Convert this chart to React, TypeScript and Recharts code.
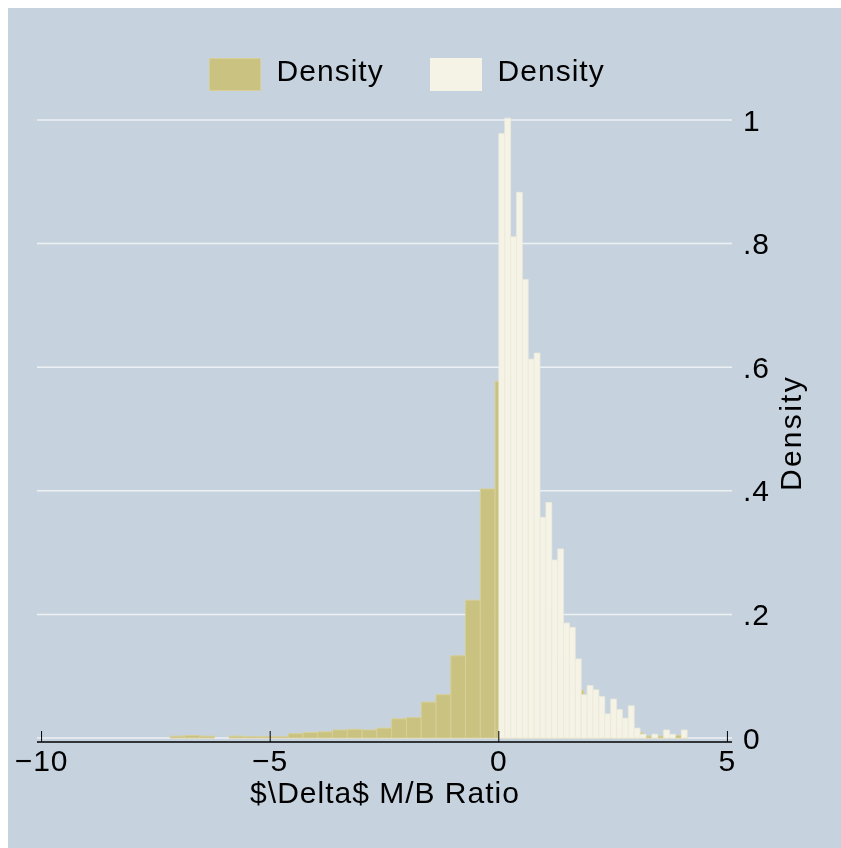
import React from 'react';
import {
  ComposedChart,
  XAxis,
  YAxis,
  CartesianGrid,
  ReferenceArea,
  Legend,
  Label,
} from 'recharts';

// ---------- data ----------
// full sample histogram (olive): 35 bins
const oliveStart = -7.19;
const oliveWidth = 0.32314;
const oliveDensity = [
  0.003, 0.004, 0.003, 0, 0.003, 0.002, 0.002, 0.002, 0.007, 0.009,
  0.01, 0.013, 0.014, 0.013, 0.016, 0.031, 0.033, 0.058, 0.07, 0.133,
  0.223, 0.403, 0.577, 0.5, 0.35, 0.22, 0.13, 0.077, 0.045, 0.03,
  0.015, 0.009, 0.003, 0.003, 0.004,
];
// positive-change histogram (cream): 32 bins
const creamStart = 0;
const creamWidth = 0.12875;
const creamDensity = [
  0.978, 1.003, 0.811, 0.883, 0.742, 0.613, 0.623, 0.357, 0.381, 0.288,
  0.306, 0.186, 0.179, 0.128, 0.07, 0.085, 0.078, 0.067, 0.039, 0.063,
  0.046, 0.032, 0.052, 0.016, 0.006, 0, 0.006, 0, 0.013, 0.006,
  0, 0.013,
];
const xTicks = [-10, -5, 0, 5];
const yTicks = [0, 0.2, 0.4, 0.6, 0.8, 1];
const legendLabels = ['Density', 'Density'];
const xTitle = '$\\Delta$ M/B Ratio';
const yTitle = 'Density';

// ---------- style ----------
const BG = '#c6d3df';
const OLIVE = '#cac281';
const OLIVE_EDGE = '#d7cf97';
const CREAM = '#f4f3e6';
const CREAM_EDGE = '#ecead9';
const GRID = '#edf1f4';
const FONT = '"Liberation Sans", Arial, Helvetica, sans-serif';
const FS = 30;

const oliveBins = oliveDensity.map((d, i) => ({
  x0: oliveStart + i * oliveWidth,
  x1: oliveStart + (i + 1) * oliveWidth,
  d,
}));
const creamBins = creamDensity.map((d, i) => ({
  x0: creamStart + i * creamWidth,
  x1: creamStart + (i + 1) * creamWidth,
  d,
}));

const fmtX = (v: number) => (v < 0 ? '\u2212' + Math.abs(v) : String(v));
const fmtY = (v: number) =>
  v === 0 ? '0' : v === 1 ? '1' : String(Number(v.toFixed(1))).replace(/^0\./, '.');

const renderXTick = (props: any) => {
  const { x, y, payload } = props;
  return (
    <text
      x={x}
      y={y}
      textAnchor="middle"
      fontFamily={FONT}
      fontSize={FS}
      letterSpacing={1}
      fill="#000"
    >
      {fmtX(payload.value)}
    </text>
  );
};

const renderYTick = (props: any) => {
  const { x, y, payload } = props;
  return (
    <text
      x={x}
      y={y + 10.7}
      textAnchor="start"
      fontFamily={FONT}
      fontSize={FS}
      letterSpacing={1}
      fill="#000"
    >
      {fmtY(payload.value)}
    </text>
  );
};

const renderXTitle = (props: any) => {
  const vb = props.viewBox || { x: 29, y: 734, width: 695, height: 106 };
  return (
    <text
      x={vb.x + vb.width / 2 + 0.5}
      y={vb.y + 61}
      textAnchor="middle"
      fontFamily={FONT}
      fontSize={FS}
      letterSpacing={1}
      fill="#000"
    >
      {xTitle}
    </text>
  );
};

const renderYTitle = (props: any) => {
  const vb = props.viewBox || { x: 724, y: 100, width: 60, height: 634 };
  const cx = vb.x + 69;
  const cy = vb.y + vb.height / 2 + 8;
  return (
    <text
      x={cx}
      y={cy}
      transform={`rotate(-90, ${cx}, ${cy})`}
      textAnchor="middle"
      fontFamily={FONT}
      fontSize={FS}
      letterSpacing={2.3}
      fill="#000"
    >
      {yTitle}
    </text>
  );
};

const renderLegend = () => (
  <div
    style={{
      position: 'relative',
      width: 460,
      height: 40,
      fontFamily: FONT,
      fontSize: FS,
      letterSpacing: 1,
    }}
  >
    {legendLabels.map((lab, i) => (
      <div
        key={i}
        style={{ position: 'absolute', left: i * 221, top: 0, width: 221, height: 40 }}
      >
        <div
          style={{
            position: 'absolute',
            left: 0,
            top: 2.7,
            width: 52,
            height: 33,
            boxSizing: 'border-box',
            background: i === 0 ? OLIVE : CREAM,
            border: i === 0 ? `1px solid ${OLIVE_EDGE}` : 'none',
          }}
        />
        <div
          style={{
            position: 'absolute',
            left: 67.6,
            top: 0,
            lineHeight: '30px',
            whiteSpace: 'nowrap',
            color: '#000',
          }}
        >
          {lab}
        </div>
      </div>
    ))}
  </div>
);

export default function App() {
  return (
    <div style={{ width: 825, height: 832, position: 'relative' }}>
      <style>{'html{overflow:hidden}'}</style>
      <div
        style={{
          position: 'fixed',
          left: 8,
          top: 8,
          right: 0,
          bottom: 0,
          background: BG,
          zIndex: 0,
        }}
      />
      <div style={{ position: 'absolute', left: 0, top: 0, width: 833, height: 840, zIndex: 1 }}>
        <ComposedChart
          width={833}
          height={840}
          data={oliveBins}
          margin={{ top: 100, right: 49, bottom: 0, left: 29 }}
        >
          <CartesianGrid
            vertical={false}
            horizontalValues={yTicks}
            stroke={GRID}
            strokeWidth={1.5}
          />
          <XAxis
            type="number"
            dataKey="x0"
            domain={[-10.1, 5.1]}
            ticks={xTicks}
            interval={0}
            allowDataOverflow
            height={106}
            tickSize={-11}
            tickMargin={40}
            axisLine={{ stroke: '#000', strokeWidth: 1.3 }}
            tickLine={{ stroke: '#000', strokeWidth: 1 }}
            tick={renderXTick}
          >
            <Label content={renderXTitle} />
          </XAxis>
          <YAxis
            orientation="right"
            type="number"
            domain={[-0.0065, 1.0194]}
            ticks={yTicks}
            interval={0}
            allowDataOverflow
            width={60}
            axisLine={false}
            tickLine={false}
            tickSize={0}
            tickMargin={11}
            tick={renderYTick}
          >
            <Label content={renderYTitle} />
          </YAxis>
          {oliveBins
            .filter((b) => b.d > 0)
            .map((b, i) => (
              <ReferenceArea
                key={'o' + i}
                x1={b.x0}
                x2={b.x1}
                y1={0}
                y2={b.d}
                fill={OLIVE}
                fillOpacity={1}
                stroke={OLIVE_EDGE}
                strokeWidth={1}
              />
            ))}
          {creamBins
            .filter((b) => b.d > 0)
            .map((b, i) => (
              <ReferenceArea
                key={'c' + i}
                x1={b.x0}
                x2={b.x1}
                y1={0}
                y2={b.d}
                fill={CREAM}
                fillOpacity={1}
                stroke={CREAM_EDGE}
                strokeWidth={0.7}
              />
            ))}
          <Legend
            layout="vertical"
            align="center"
            verticalAlign="middle"
            content={renderLegend}
            wrapperStyle={{ top: 47.6, left: 201, width: 460, height: 40 }}
          />
        </ComposedChart>
      </div>
    </div>
  );
}
